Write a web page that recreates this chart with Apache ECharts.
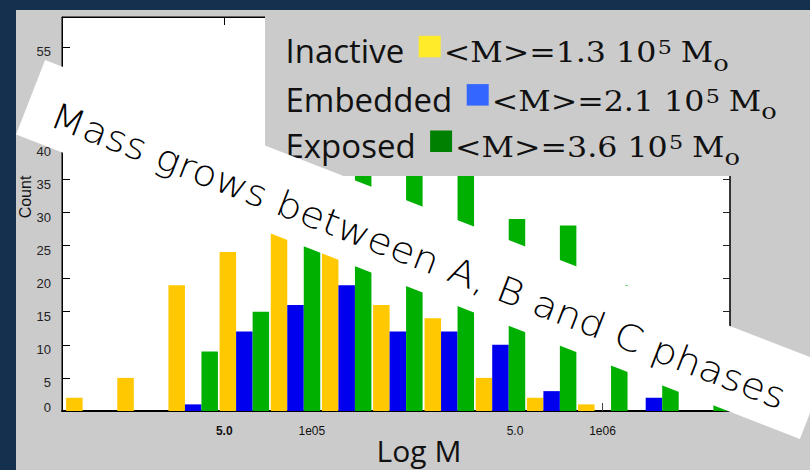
<!DOCTYPE html>
<html>
<head>
<meta charset="utf-8">
<script src="https://cdn.jsdelivr.net/npm/echarts@6/dist/echarts.min.js"></script>
<style>
  html, body { margin: 0; padding: 0; background: #cbcbcb; }
  #chart { width: 810px; height: 470px; }
</style>
</head>
<body>
<div id="chart"></div>
<script>
// log10(M / Msun) at the centre of each mass bin
const binCenters = [4.240, 4.416, 4.592, 4.768, 4.944, 5.120, 5.296, 5.473, 5.649, 5.825, 6.001, 6.177, 6.353];
// cloud counts per bin for each phase
const inactive = [2, 5, 19, 24, 28, 25, 16, 14, 5, 2, 1, 0, 0];
const embedded = [0, 0, 1, 12, 16, 19, 12, 12, 10, 3, 0, 2, 0];
const exposed  = [0, 0, 9, 15, 27, 38, 42, 40, 29, 28, 19, 10, 5];

const yTicks = [0, 5, 10, 15, 20, 25, 30, 35, 40, 45, 50, 55];
const xTickMasses = [5e4, 1e5, 5e5, 1e6];
const xTickLabels = ['5.0', '1e05', '5.0', '1e06'];

const legendNames = ['Inactive', 'Embedded', 'Exposed'];
const legendMeans = ['1.3', '2.1', '3.6'];
const legendSwatches = ['#FFEB2A', '#3366FF', '#008000'];
const barColors = ['#FFC800', '#0000EE', '#00B000'];

const bannerText = 'Mass grows between A, B and C phases';

const OPEN = '"Open Sans", sans-serif';
const SERIF = '"DejaVu Serif", serif';
const ARIAL = '"Liberation Sans", Arial, sans-serif';
const BANNER = '"DejaVu Sans", sans-serif';

const xTickValues = xTickMasses.map(function (m) { return Math.log10(m); });

// text metrics, used to lay out the legend lines piece by piece
const mctx = document.createElement('canvas').getContext('2d');
function textWidth(str, size, family, weight) {
  mctx.font = (weight || 'normal') + ' ' + size + 'px ' + family;
  mctx.textBaseline = 'alphabetic';
  return mctx.measureText(str).width;
}
function midAbove(size, family) {
  mctx.font = 'normal ' + size + 'px ' + family;
  mctx.textBaseline = 'middle';
  const d = mctx.measureText('H').actualBoundingBoxDescent;
  mctx.textBaseline = 'alphabetic';
  return d;
}
function textEl(str, x, baseline, size, family, opts) {
  opts = opts || {};
  return {
    type: 'text', x: x, y: baseline - midAbove(size, family), z: opts.z || 60,
    style: {
      text: str, fill: opts.fill || '#111',
      font: (opts.weight || 'normal') + ' ' + size + 'px ' + family,
      align: opts.align || 'left', textAlign: opts.align || 'left',
      verticalAlign: 'middle', textVerticalAlign: 'middle'
    }
  };
}

function seriesData(values) {
  return binCenters.map(function (c, i) { return [c, values[i]]; });
}

const graphics = [];
// slide frame
graphics.push({ type: 'rect', z: 1, shape: { x: 0, y: 0, width: 16, height: 470 }, style: { fill: '#15304F' } });
graphics.push({ type: 'rect', z: 1, shape: { x: 0, y: 0, width: 810, height: 10 }, style: { fill: '#15304F' } });

// legend panel laid over the upper right of the plot
graphics.push({ type: 'rect', z: 50, shape: { x: 265, y: 10, width: 545, height: 166 }, style: { fill: '#cbcbcb' } });

const rowBaselines = [60.3, 108.6, 155];
const LBL = 33, MAIN = 27, SUP = 19, SUB = 22;
// horizontal stretch of the formula so it spans the same width on each row
const natural = textWidth('<M>=' + legendMeans[0] + ' 10', MAIN, SERIF) + textWidth('5', SUP, SERIF) +
  textWidth(' M', MAIN, SERIF) + textWidth('o', SUB, SERIF);
const fScale = 285 / natural;

legendNames.forEach(function (name, i) {
  const b = rowBaselines[i];
  const lx = 285.5;
  graphics.push(textEl(name, lx, b, LBL, OPEN));
  const sx = lx + textWidth(name, LBL, OPEN) + 14.5;
  graphics.push({ type: 'rect', z: 60, shape: { x: sx, y: b - 24.5, width: 22, height: 21.5 }, style: { fill: legendSwatches[i] } });
  const p1 = '<M>=' + legendMeans[i] + ' 10';
  const w1 = textWidth(p1, MAIN, SERIF);
  const w2 = textWidth('5', SUP, SERIF);
  const w3 = textWidth(' M', MAIN, SERIF);
  graphics.push({
    type: 'group', x: sx + 25, y: 0, scaleX: fScale, z: 60,
    children: [
      textEl(p1, 0, b, MAIN, SERIF),
      textEl('5', w1 + 1, b - 7.5, SUP, SERIF),
      textEl(' M', w1 + w2, b, MAIN, SERIF),
      textEl('o', w1 + w2 + w3, b + 8.7, SUB, SERIF)
    ]
  });
});

// axis titles
graphics.push({
  type: 'text', x: 25, y: 197, rotation: Math.PI / 2, z: 40,
  style: { text: 'Count', fill: '#111', font: 'normal 16px ' + ARIAL, align: 'center', textAlign: 'center', verticalAlign: 'middle', textVerticalAlign: 'middle' }
});
graphics.push(textEl('Log M', 419, 459.5, 30, OPEN, { align: 'center', z: 40 }));

// diagonal banner across the chart
const BANNER_SIZE = 36;
const BANNER_WEIGHT = 200;
const bannerScale = 785 / textWidth(bannerText, BANNER_SIZE, BANNER, BANNER_WEIGHT);
graphics.push({
  type: 'group', x: 422.5, y: 249.5, rotation: -21.2 * Math.PI / 180, z: 90,
  children: [
    { type: 'rect', z: 90, shape: { x: -420.5, y: -40, width: 841, height: 80 }, style: { fill: '#ffffff' } },
    {
      type: 'text', z: 91, x: -1.4, y: 17 - midAbove(BANNER_SIZE, BANNER), scaleX: bannerScale,
      style: { text: bannerText, fill: '#000', font: BANNER_WEIGHT + ' ' + BANNER_SIZE + 'px ' + BANNER, align: 'center', textAlign: 'center', verticalAlign: 'middle', textVerticalAlign: 'middle' }
    }
  ]
});

const X_MIN = 4.1407, X_MAX = 6.4386;

function barSeries(name, values, color) {
  return {
    name: name, type: 'bar', data: seriesData(values),
    xAxisIndex: 0, yAxisIndex: 0,
    barWidth: 16.5, barGap: '0%',
    itemStyle: { color: color },
    emphasis: { disabled: true },
    z: 2
  };
}

const chart = echarts.init(document.getElementById('chart'), null, { renderer: 'svg' });
chart.setOption({
  backgroundColor: '#cbcbcb',
  animation: false,
  grid: {
    left: 62, right: 80, top: 17, bottom: 59,
    show: true, backgroundColor: '#ffffff', borderColor: '#000', borderWidth: 1
  },
  xAxis: [
    {
      type: 'value', position: 'bottom', min: X_MIN, max: X_MAX,
      axisLine: { show: true, onZero: false, lineStyle: { color: '#000', width: 2 } },
      axisTick: { show: true, inside: true, length: 8, customValues: [xTickValues[3]], lineStyle: { color: '#444' } },
      splitLine: { show: false },
      axisLabel: {
        customValues: xTickValues, margin: 14, color: '#111', fontSize: 12, fontFamily: ARIAL,
        formatter: function (v) {
          let k = 0;
          xTickValues.forEach(function (t, j) { if (Math.abs(t - v) < Math.abs(xTickValues[k] - v)) k = j; });
          return k === 0 ? '{b|' + xTickLabels[k] + '}' : xTickLabels[k];
        },
        rich: { b: { fontWeight: 'bold', fontSize: 12, fontFamily: ARIAL, color: '#111' } }
      }
    },
    {
      type: 'value', position: 'top', min: X_MIN, max: X_MAX,
      axisLine: { show: true, onZero: false, lineStyle: { color: '#000', width: 1 } },
      axisTick: { show: true, inside: true, length: 8, customValues: [xTickValues[0]], lineStyle: { color: '#000' } },
      axisLabel: { show: false },
      splitLine: { show: false }
    }
  ],
  yAxis: [
    {
      type: 'value', position: 'left', min: 0, max: 59.5,
      axisLine: { show: true, onZero: false, lineStyle: { color: '#000', width: 1 } },
      axisTick: { show: true, inside: true, length: 8, customValues: yTicks, lineStyle: { color: '#000' } },
      splitLine: { show: false },
      axisLabel: {
        customValues: yTicks, margin: 11, color: '#222', fontSize: 13, fontFamily: ARIAL,
        formatter: function (v) { return v === 0 ? '{z|0}' : '{d|' + v + '}'; },
        rich: {
          d: { fontSize: 13, fontFamily: ARIAL, color: '#222', padding: [10, 0, 0, 0] },
          z: { fontSize: 13, fontFamily: ARIAL, color: '#222', padding: [0, 0, 8, 0] }
        }
      }
    },
    {
      type: 'value', position: 'right', min: 0, max: 59.5,
      axisLine: { show: true, onZero: false, lineStyle: { color: '#222', width: 1.5 } },
      axisTick: { show: true, inside: true, length: 7, customValues: yTicks, lineStyle: { color: '#222' } },
      axisLabel: { show: false },
      splitLine: { show: false }
    }
  ],
  series: [
    barSeries('Inactive', inactive, barColors[0]),
    barSeries('Embedded', embedded, barColors[1]),
    barSeries('Exposed', exposed, barColors[2])
  ],
  graphic: { elements: graphics }
});
</script>
</body>
</html>
